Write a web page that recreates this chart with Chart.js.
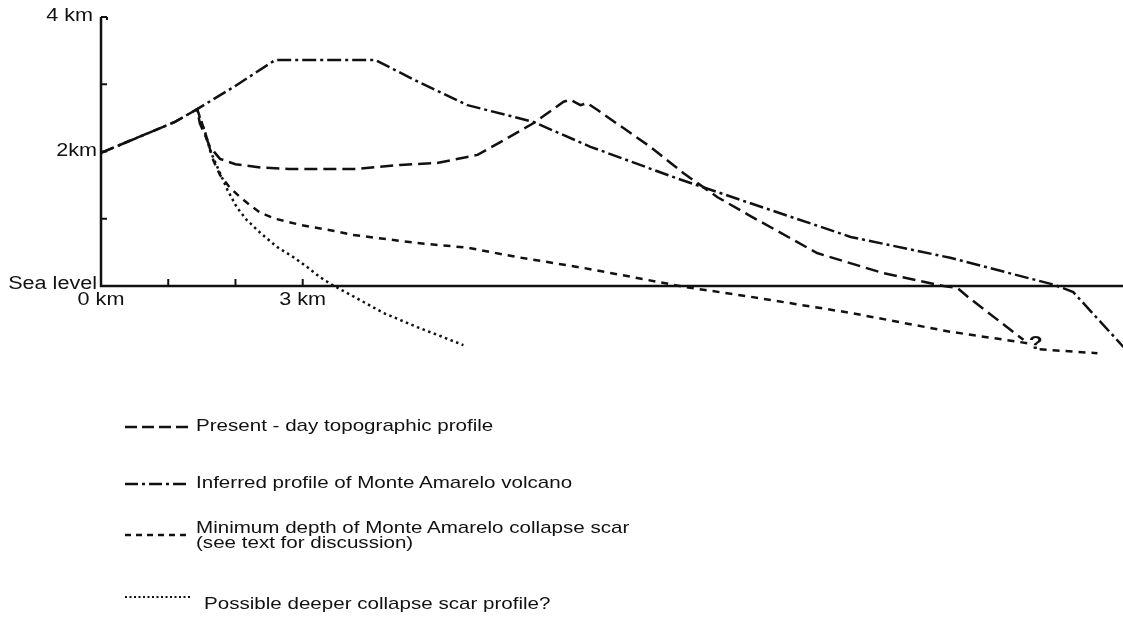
<!DOCTYPE html>
<html>
<head>
<meta charset="utf-8">
<script src="https://cdn.jsdelivr.net/npm/chart.js@4.4.1/dist/chart.umd.min.js"></script>
<style>
  html, body { margin: 0; padding: 0; background: #fff; }
  #wrap { position: relative; width: 1123px; height: 617px; overflow: hidden; }
  #c { position: absolute; left: 0; top: 0; }
  .lg { position: absolute; font-family: "Liberation Sans", Arial, sans-serif; font-size: 17px; line-height: 15px; color: #111; transform: scaleX(1.21); transform-origin: 0 0; white-space: nowrap; }
  .sw { position: absolute; }
</style>
</head>
<body>
<div id="wrap">
  <canvas id="c" width="1123" height="617"></canvas>
  <svg class="sw" style="left:124px;top:422px" width="70" height="10"><line x1="1" y1="5" x2="66" y2="5" stroke="#111" stroke-width="2.5" stroke-dasharray="12,5"/></svg>
  <div class="lg" style="left:196px;top:418px">Present - day topographic profile</div>
  <svg class="sw" style="left:124px;top:479px" width="70" height="10"><line x1="1" y1="5" x2="66" y2="5" stroke="#111" stroke-width="2.5" stroke-dasharray="13,4,3,4"/></svg>
  <div class="lg" style="left:196px;top:475px">Inferred profile of Monte Amarelo volcano</div>
  <svg class="sw" style="left:124px;top:530px" width="70" height="10"><line x1="1" y1="5" x2="66" y2="5" stroke="#111" stroke-width="2.5" stroke-dasharray="6,5"/></svg>
  <div class="lg" style="left:196px;top:520px">Minimum depth of Monte Amarelo collapse scar<br>(see text for discussion)</div>
  <svg class="sw" style="left:124px;top:592px" width="70" height="10"><line x1="1" y1="5" x2="66" y2="5" stroke="#111" stroke-width="2" stroke-dasharray="2,2.5"/></svg>
  <div class="lg" style="left:204px;top:596px">Possible deeper collapse scar profile?</div>
</div>
<script>
// ---- data (km) ----
const presentX  = [0, 0.43, 1.10, 1.43, 1.47, 1.62, 1.77, 2.00, 2.40, 2.80, 3.80, 4.45, 5.00, 5.60, 5.94, 6.43, 6.88, 6.98, 7.13, 7.23, 7.38, 8.17, 8.66, 9.17, 9.66, 10.65, 11.64, 12.53, 12.74, 12.89, 13.72];
const presentY  = [1.98, 2.16, 2.44, 2.63, 2.42, 2.07, 1.89, 1.81, 1.76, 1.74, 1.74, 1.80, 1.83, 1.95, 2.14, 2.42, 2.74, 2.77, 2.69, 2.72, 2.62, 2.07, 1.68, 1.32, 1.04, 0.49, 0.19, 0.00, -0.03, -0.16, -0.80];

const inferredX = [0, 0.43, 1.10, 1.43, 1.99, 2.59, 4.08, 4.75, 5.45, 6.43, 7.28, 8.54, 9.66, 11.15, 12.63, 14.17, 14.46, 15.21];
const inferredY = [1.98, 2.16, 2.44, 2.63, 2.97, 3.36, 3.36, 3.02, 2.69, 2.44, 2.07, 1.61, 1.23, 0.73, 0.42, 0.02, -0.09, -0.91];

const minScarX  = [1.43, 1.55, 1.67, 1.77, 1.92, 2.07, 2.22, 2.37, 2.59, 2.96, 3.41, 3.75, 4.70, 5.45, 6.19, 7.17, 7.92, 8.66, 9.66, 11.15, 12.63, 13.78, 13.87, 13.96, 14.82];
const minScarY  = [2.63, 2.28, 1.87, 1.65, 1.46, 1.32, 1.20, 1.09, 1.00, 0.91, 0.83, 0.76, 0.64, 0.57, 0.43, 0.27, 0.13, -0.01, -0.16, -0.40, -0.68, -0.85, null, -0.94, -1.00];

const deepScarX = [1.43, 1.55, 1.62, 1.73, 1.88, 2.02, 2.17, 2.37, 2.62, 2.86, 3.07, 3.26, 3.45, 3.71, 4.20, 4.70, 5.09, 5.39];
const deepScarY = [2.62, 2.28, 2.02, 1.77, 1.43, 1.17, 0.98, 0.79, 0.58, 0.43, 0.28, 0.13, 0.01, -0.13, -0.40, -0.61, -0.76, -0.88];

// axis ticks / labels
const yLabelValues = [4, 2, 0];
const yLabelTexts  = ['4 km', '2km', 'Sea level'];
const yTickValues  = [1, 2, 3, 4];
const xLabelValues = [0, 3];
const xLabelTexts  = ['0 km', '3 km'];
const xTickValues  = [1, 2, 3];
const axisTop = 4;
const queryMark = { x: 13.9, y: -0.86, text: '?' };

const zip = (xs, ys) => xs.map((x, i) => ({ x: x, y: ys[i] }));

const INK = '#111';

const axesPlugin = {
  id: 'axesPlugin',
  afterDatasetsDraw(chart) {
    const { ctx, scales: { x, y }, chartArea } = chart;
    const x0 = x.getPixelForValue(0);
    const y0 = y.getPixelForValue(0);
    const yTop = y.getPixelForValue(axisTop);
    ctx.save();
    ctx.strokeStyle = INK;
    ctx.lineWidth = 2.5;
    ctx.setLineDash([]);
    ctx.beginPath();
    ctx.moveTo(x0, y0 + 1);
    ctx.lineTo(x0, yTop);
    ctx.stroke();
    ctx.beginPath();
    ctx.moveTo(x0 - 1, y0);
    ctx.lineTo(chartArea.right, y0);
    ctx.stroke();
    ctx.lineWidth = 2;
    yTickValues.forEach(v => {
      const py = y.getPixelForValue(v);
      ctx.beginPath();
      ctx.moveTo(x0, py);
      ctx.lineTo(x0 + 6, py);
      ctx.stroke();
    });
    ctx.beginPath();
    ctx.moveTo(x0 + 6, yTop);
    ctx.lineTo(x0 + 6, yTop + 3);
    ctx.stroke();
    xTickValues.forEach(v => {
      const px = x.getPixelForValue(v);
      ctx.beginPath();
      ctx.moveTo(px, y0);
      ctx.lineTo(px, y0 - 7);
      ctx.stroke();
    });
    ctx.fillStyle = INK;
    ctx.font = '18px "Liberation Sans", Arial, sans-serif';
    ctx.textBaseline = 'middle';
    const sx = 1.2;
    const txt = (s, px, py, align) => {
      ctx.save();
      ctx.translate(px, py);
      ctx.scale(sx, 1);
      ctx.textAlign = align;
      ctx.fillText(s, 0, 0);
      ctx.restore();
    };
    const yOffsets = [-1, 0, -2];
    const xRight = [x0 - 8, x0 - 4, x0 - 4];
    yLabelValues.forEach((v, i) => {
      txt(yLabelTexts[i], xRight[i], y.getPixelForValue(v) + yOffsets[i], 'right');
    });
    xLabelValues.forEach((v, i) => {
      txt(xLabelTexts[i], x.getPixelForValue(v), y0 + 14, 'center');
    });
    ctx.font = 'bold 19px "Liberation Sans", Arial, sans-serif';
    txt(queryMark.text, x.getPixelForValue(queryMark.x), y.getPixelForValue(queryMark.y), 'center');
    ctx.restore();
  }
};

new Chart(document.getElementById('c'), {
  type: 'line',
  data: {
    datasets: [
      { label: 'Present - day topographic profile', data: zip(presentX, presentY), borderDash: [13, 6], borderWidth: 2.5 },
      { label: 'Inferred profile of Monte Amarelo volcano', data: zip(inferredX, inferredY), borderDash: [14, 4, 3, 4], borderWidth: 2.5 },
      { label: 'Minimum depth of Monte Amarelo collapse scar', data: zip(minScarX, minScarY), borderDash: [7, 6], borderWidth: 2.5, spanGaps: false },
      { label: 'Possible deeper collapse scar profile?', data: zip(deepScarX, deepScarY), borderDash: [2.5, 3.5], borderWidth: 2.5 }
    ].map(d => Object.assign({ borderColor: INK, backgroundColor: INK, pointRadius: 0, tension: 0, fill: false }, d))
  },
  options: {
    responsive: false,
    animation: false,
    devicePixelRatio: 1,
    layout: { padding: { left: 101, top: 17, right: 0, bottom: 257 } },
    scales: {
      x: { type: 'linear', min: 0, max: 15.2, display: false },
      y: { type: 'linear', min: -1.1, max: 4, display: false }
    },
    plugins: { legend: { display: false }, tooltip: { enabled: false } },
    clip: false
  },
  plugins: [axesPlugin]
});
</script>
</body>
</html>
